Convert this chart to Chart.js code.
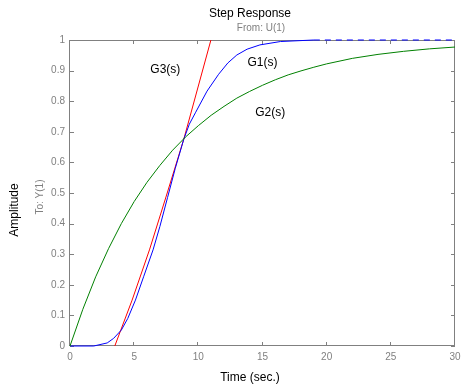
<!DOCTYPE html>
<html>
<head>
<meta charset="utf-8">
<script src="https://cdn.jsdelivr.net/npm/chart.js@4"></script>
<style>
  body { margin: 0; background: #fff; }
  canvas { display: block; }
</style>
</head>
<body>
<canvas id="stepChart" width="468" height="387"></canvas>
<script>
// values
const timeG1 = [0, 1.85, 2.9, 3.4, 4.0, 4.5, 5.1, 5.75, 6.47, 7.0, 7.6, 8.2, 8.86, 9.3, 9.77, 10.68, 11.58, 12.3, 13.0, 13.8, 14.8, 16.4, 19];
const ampG1 = [0, 0, 0.01, 0.025, 0.052, 0.09, 0.15, 0.228, 0.314, 0.39, 0.485, 0.58, 0.675, 0.725, 0.762, 0.833, 0.888, 0.925, 0.951, 0.97, 0.984, 0.995, 1];
const timeG1Final = [19, 30];
const ampG1Final = [1, 1];

const timeG2 = [0, 1, 2, 3, 4, 5, 6, 7, 8, 9, 10, 11, 12, 13, 14, 15, 16, 17, 18, 19, 20, 22, 24, 26, 28, 30];
const ampG2 = [0, 0.12, 0.226, 0.318, 0.40, 0.472, 0.535, 0.59, 0.64, 0.683, 0.72, 0.754, 0.783, 0.81, 0.832, 0.852, 0.87, 0.886, 0.899, 0.911, 0.922, 0.94, 0.953, 0.963, 0.971, 0.977];

const timeG3 = [3.49, 4.84, 6.19, 7.5, 8.86, 10.98];
const ampG3 = [0, 0.15, 0.314, 0.49, 0.675, 1];

const xTicks = [0, 5, 10, 15, 20, 25, 30];
const yTicks = [0, 0.1, 0.2, 0.3, 0.4, 0.5, 0.6, 0.7, 0.8, 0.9, 1];

const curveLabels = ["G3(s)", "G1(s)", "G2(s)"];
const labelX = [7.43, 15.0, 15.6];
const labelY = [0.902, 0.925, 0.761];

const pts = (xs, ys) => xs.map((x, i) => ({ x: x, y: ys[i] }));

const axisGray = "#808080";
const fontFam = "'Liberation Sans', Arial, sans-serif";

// box and inward ticks go under the curves, text on top
const decorations = {
  id: "decorations",
  beforeDatasetsDraw(chart) {
    const ctx = chart.ctx;
    const a = chart.chartArea;
    const xs = chart.scales.x, ys = chart.scales.y;
    ctx.save();
    ctx.strokeStyle = axisGray;
    ctx.lineWidth = 1;
    ctx.strokeRect(a.left - 0.5, a.top + 0.5, a.right - a.left, a.bottom - a.top - 1);
    ctx.beginPath();
    xTicks.forEach(v => {
      const px = Math.round(xs.getPixelForValue(v)) - 0.5;
      ctx.moveTo(px, a.bottom); ctx.lineTo(px, a.bottom - 4);
      ctx.moveTo(px, a.top); ctx.lineTo(px, a.top + 4);
    });
    yTicks.forEach(v => {
      const py = Math.round(ys.getPixelForValue(v)) + 0.5;
      ctx.moveTo(a.left, py); ctx.lineTo(a.left + 4, py);
      ctx.moveTo(a.right, py); ctx.lineTo(a.right - 4, py);
    });
    ctx.stroke();
    ctx.restore();
  },
  afterDraw(chart) {
    const ctx = chart.ctx;
    const xs = chart.scales.x, ys = chart.scales.y;
    ctx.save();
    ctx.textAlign = "center";
    ctx.textBaseline = "middle";
    ctx.fillStyle = "#000";
    ctx.font = "12px " + fontFam;
    ctx.fillText("Step Response", 250, 14);
    ctx.fillText("Time (sec.)", 250, 378);
    curveLabels.forEach((t, i) => {
      ctx.fillText(t, xs.getPixelForValue(labelX[i]), ys.getPixelForValue(labelY[i]));
    });
    ctx.fillStyle = axisGray;
    ctx.font = "10px " + fontFam;
    ctx.fillText("From: U(1)", 261, 28);

    ctx.save();
    ctx.translate(15, 210);
    ctx.rotate(-Math.PI / 2);
    ctx.fillStyle = "#000";
    ctx.font = "12px " + fontFam;
    ctx.fillText("Amplitude", 0, 0);
    ctx.restore();
    ctx.save();
    ctx.translate(40, 197);
    ctx.rotate(-Math.PI / 2);
    ctx.fillStyle = axisGray;
    ctx.font = "10px " + fontFam;
    ctx.fillText("To: Y(1)", 0, 0);
    ctx.restore();
    ctx.restore();
  }
};

new Chart(document.getElementById("stepChart"), {
  type: "line",
  data: {
    datasets: [
      { data: pts(timeG2, ampG2), borderColor: "#008000" },
      { data: pts(timeG1, ampG1), borderColor: "#0000ff" },
      { data: pts(timeG1Final, ampG1Final), borderColor: "#0000ff", borderDash: [6, 5] },
      { data: pts(timeG3, ampG3), borderColor: "#ff0000" }
    ]
  },
  options: {
    responsive: false,
    animation: false,
    layout: { padding: { top: 40, right: 13, left: 0, bottom: 0 } },
    elements: {
      line: { borderWidth: 1, tension: 0, fill: false },
      point: { radius: 0 }
    },
    datasets: { line: { clip: 2 } },
    plugins: {
      legend: { display: false },
      tooltip: { enabled: false }
    },
    scales: {
      x: {
        type: "linear",
        min: 0,
        max: 30,
        afterFit: s => { s.height = 41; },
        afterBuildTicks: s => { s.ticks = xTicks.map(v => ({ value: v })); },
        grid: { display: false, drawTicks: false },
        border: { display: false },
        ticks: { color: axisGray, font: { size: 10, family: fontFam }, padding: 5, maxRotation: 0 }
      },
      y: {
        type: "linear",
        min: 0,
        max: 1,
        afterFit: s => { s.width = 70; },
        afterBuildTicks: s => { s.ticks = yTicks.map(v => ({ value: v })); },
        grid: { display: false, drawTicks: false },
        border: { display: false },
        ticks: { color: axisGray, font: { size: 10, family: fontFam }, padding: 5, callback: v => String(v) }
      }
    }
  },
  plugins: [decorations]
});
</script>
</body>
</html>
